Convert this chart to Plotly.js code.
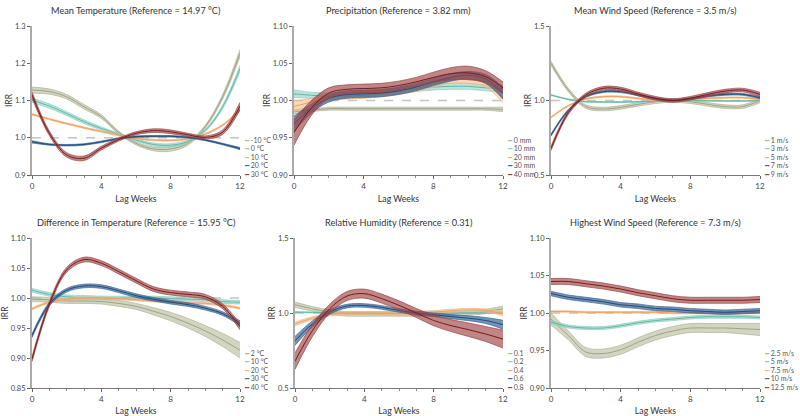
<!DOCTYPE html>
<html>
<head>
<meta charset="utf-8">
<script src="https://cdn.plot.ly/plotly-3.0.1.min.js"></script>
<style>html,body{margin:0;padding:0;background:#fff;}#chart{width:800px;height:416px;}</style>
</head>
<body>
<div id="chart"></div>
<script>
// ---------- DATA ----------
const lags = [0,1,2,3,4,5,6,7,8,9,10,11,12];
const REF_IRR = 1;

// Panel 1: Mean Temperature
const mtLabels = ["-10 °C","0 °C","10 °C","20 °C","30 °C"];
const mt_n10 = [1.128,1.124,1.110,1.083,1.057,1.014,0.985,0.970,0.970,0.985,1.030,1.110,1.227];
const mt_n10_ci = [0.008,0.007,0.006,0.006,0.005,0.004,0.004,0.005,0.006,0.005,0.004,0.006,0.010];
const mt_0 = [1.101,1.085,1.065,1.043,1.025,1.009,0.994,0.982,0.980,0.990,1.020,1.083,1.186];
const mt_0_ci = [0.006,0.006,0.005,0.005,0.004,0.003,0.003,0.004,0.004,0.004,0.003,0.005,0.008];
const mt_10 = [1.063,1.050,1.038,1.027,1.017,1.007,0.998,0.994,0.993,0.997,1.010,1.034,1.074];
const mt_10_ci = [0.002,0.002,0.002,0.002,0.002,0.002,0.002,0.002,0.002,0.002,0.002,0.002,0.003];
const mt_20 = [0.989,0.982,0.980,0.982,0.989,0.998,1.003,1.004,1.004,1.001,0.994,0.983,0.971];
const mt_20_ci = [0.003,0.002,0.002,0.002,0.002,0.002,0.002,0.002,0.002,0.002,0.002,0.002,0.003];
const mt_30 = [1.115,1.012,0.954,0.945,0.972,0.995,1.012,1.019,1.016,1.008,1.001,1.015,1.085];
const mt_30_ci = [0.008,0.006,0.006,0.006,0.005,0.004,0.004,0.005,0.005,0.004,0.004,0.006,0.010];

// Panel 2: Precipitation
const prLabels = ["0 mm","10 mm","20 mm","30 mm","40 mm"];
const pr_0 = [0.985,0.987,0.989,0.989,0.989,0.989,0.989,0.989,0.989,0.989,0.989,0.989,0.988];
const pr_0_ci = [0.003,0.002,0.002,0.002,0.002,0.002,0.002,0.002,0.002,0.002,0.002,0.002,0.003];
const pr_10 = [1.009,1.007,1.006,1.007,1.009,1.010,1.013,1.016,1.018,1.019,1.019,1.017,1.016];
const pr_10_ci = [0.005,0.004,0.004,0.004,0.004,0.004,0.004,0.004,0.004,0.004,0.004,0.004,0.005];
const pr_20 = [0.992,0.998,1.004,1.006,1.007,1.009,1.012,1.016,1.022,1.027,1.028,1.023,1.003];
const pr_20_ci = [0.007,0.005,0.004,0.004,0.004,0.004,0.004,0.004,0.004,0.004,0.005,0.005,0.006];
const pr_30 = [0.969,0.989,1.003,1.008,1.009,1.010,1.013,1.018,1.025,1.031,1.034,1.029,1.010];
const pr_30_ci = [0.010,0.006,0.005,0.005,0.005,0.005,0.005,0.005,0.005,0.005,0.005,0.006,0.008];
const pr_40 = [0.957,0.990,1.010,1.015,1.016,1.017,1.020,1.025,1.031,1.036,1.037,1.032,1.017];
const pr_40_ci = [0.017,0.010,0.007,0.006,0.006,0.006,0.006,0.006,0.007,0.008,0.009,0.008,0.008];

// Panel 3: Mean Wind Speed
const mwLabels = ["1 m/s","3 m/s","5 m/s","7 m/s","9 m/s"];
const mw_1 = [1.250,1.070,0.959,0.943,0.954,0.974,0.992,1.000,0.992,0.974,0.959,0.959,0.999];
const mw_1_ci = [0.014,0.012,0.012,0.012,0.012,0.012,0.012,0.012,0.012,0.012,0.012,0.012,0.014];
const mw_3 = [1.037,1.008,0.992,0.990,0.990,0.992,0.995,1.000,1.000,0.998,0.997,0.997,0.999];
const mw_3_ci = [0.003,0.003,0.003,0.003,0.003,0.003,0.003,0.003,0.003,0.003,0.003,0.003,0.003];
const mw_5 = [0.887,0.965,1.010,1.026,1.026,1.014,1.003,1.000,1.008,1.014,1.019,1.019,1.008];
const mw_5_ci = [0.004,0.004,0.004,0.004,0.004,0.004,0.004,0.004,0.004,0.004,0.004,0.004,0.004];
const mw_7 = [0.768,0.935,1.026,1.059,1.059,1.037,1.012,1.000,1.012,1.030,1.041,1.041,1.019];
const mw_7_ci = [0.007,0.006,0.006,0.006,0.006,0.006,0.006,0.006,0.006,0.006,0.006,0.006,0.007];
const mw_9 = [0.678,0.920,1.037,1.082,1.077,1.044,1.015,1.000,1.015,1.041,1.063,1.070,1.041];
const mw_9_ci = [0.014,0.012,0.012,0.012,0.012,0.012,0.012,0.012,0.012,0.012,0.012,0.012,0.014];

// Panel 4: Difference in Temperature
const dtLabels = ["2 °C","10 °C","20 °C","30 °C","40 °C"];
const dt_2 = [0.998,0.997,0.995,0.995,0.994,0.991,0.986,0.978,0.969,0.958,0.945,0.930,0.913];
const dt_2_ci = [0.004,0.004,0.004,0.004,0.004,0.005,0.005,0.006,0.007,0.008,0.009,0.011,0.013];
const dt_10 = [1.013,1.006,1.002,1.001,1.000,1.000,1.000,1.000,0.999,0.998,0.997,0.994,0.993];
const dt_10_ci = [0.003,0.003,0.003,0.003,0.003,0.003,0.003,0.003,0.003,0.003,0.003,0.003,0.003];
const dt_20 = [0.982,0.993,0.998,1.000,1.000,0.999,0.997,0.995,0.994,0.992,0.991,0.988,0.983];
const dt_20_ci = [0.0015,0.0015,0.0015,0.0015,0.0015,0.0015,0.0015,0.0015,0.0015,0.0015,0.0015,0.0015,0.0015];
const dt_30 = [0.937,0.990,1.013,1.020,1.019,1.012,1.004,0.998,0.993,0.989,0.983,0.974,0.958];
const dt_30_ci = [0.003,0.003,0.003,0.003,0.003,0.003,0.003,0.003,0.003,0.003,0.003,0.003,0.004];
const dt_40 = [0.898,0.990,1.047,1.064,1.058,1.044,1.029,1.015,1.009,1.006,1.002,0.986,0.952];
const dt_40_ci = [0.004,0.004,0.004,0.004,0.004,0.004,0.004,0.004,0.004,0.004,0.004,0.004,0.005];

// Panel 5: Relative Humidity
const rhLabels = ["0.1","0.2","0.4","0.6","0.8"];
const rh_01 = [1.055,1.028,1.006,0.994,0.994,0.994,0.994,0.994,0.994,0.996,1.000,1.010,1.028];
const rh_01_ci = [0.018,0.015,0.015,0.015,0.015,0.015,0.015,0.015,0.015,0.015,0.015,0.015,0.018];
const rh_02 = [1.006,1.004,1.001,1.000,0.998,0.997,0.997,0.998,0.999,1.000,1.000,1.000,1.002];
const rh_02_ci = [0.003,0.003,0.003,0.003,0.003,0.003,0.003,0.003,0.003,0.003,0.003,0.003,0.003];
const rh_04 = [0.927,0.965,0.991,1.000,1.000,0.999,0.997,1.000,1.006,1.015,1.021,1.017,0.994];
const rh_04_ci = [0.012,0.010,0.010,0.010,0.010,0.010,0.010,0.010,0.010,0.010,0.010,0.010,0.012];
const rh_06 = [0.814,0.927,1.006,1.046,1.050,1.037,1.017,1.000,0.988,0.976,0.965,0.950,0.922];
const rh_06_ci = [0.030,0.020,0.015,0.012,0.012,0.012,0.012,0.012,0.012,0.014,0.016,0.020,0.030];
const rh_08 = [0.679,0.882,1.028,1.113,1.129,1.096,1.051,1.000,0.950,0.916,0.889,0.860,0.826];
const rh_08_ci = [0.055,0.040,0.030,0.030,0.030,0.030,0.030,0.030,0.035,0.040,0.045,0.050,0.060];

// Panel 6: Highest Wind Speed
const hwLabels = ["2.5 m/s","5 m/s","7.5 m/s","10 m/s","12.5 m/s"];
const hw_25 = [0.992,0.970,0.948,0.946,0.951,0.961,0.970,0.976,0.980,0.980,0.980,0.979,0.978];
const hw_25_ci = [0.008,0.006,0.006,0.006,0.006,0.006,0.006,0.006,0.006,0.006,0.006,0.007,0.008];
const hw_5 = [0.988,0.982,0.980,0.980,0.983,0.987,0.990,0.992,0.994,0.995,0.995,0.995,0.994];
const hw_5_ci = [0.002,0.002,0.002,0.002,0.002,0.002,0.002,0.002,0.002,0.002,0.002,0.002,0.002];
const hw_75 = [1.002,1.002,1.001,1.001,1.001,1.001,1.001,1.000,1.000,1.000,1.000,1.000,1.000];
const hw_75_ci = [0.001,0.001,0.001,0.001,0.001,0.001,0.001,0.001,0.001,0.001,0.001,0.001,0.001];
const hw_10 = [1.026,1.021,1.018,1.015,1.011,1.009,1.006,1.005,1.003,1.002,1.001,1.002,1.003];
const hw_10_ci = [0.003,0.003,0.003,0.003,0.003,0.003,0.003,0.003,0.003,0.003,0.003,0.003,0.003];
const hw_125 = [1.042,1.042,1.039,1.036,1.032,1.027,1.023,1.019,1.017,1.017,1.017,1.017,1.018];
const hw_125_ci = [0.004,0.004,0.004,0.004,0.004,0.004,0.004,0.004,0.004,0.004,0.004,0.004,0.004];

// ---------- STYLE / LAYOUT ----------
const W = 800, H = 416;
const FONT = 'Lato, "Open Sans", sans-serif';
const palette = [
  {line:'#9fa385', edge:'#b2b597', fill:'rgba(186,190,160,0.65)'},
  {line:'#5fb8a6', edge:'#8ccfc0', fill:'rgba(140,208,193,0.6)'},
  {line:'#f0a060', edge:'#f5b47e', fill:'rgba(247,182,128,0.55)'},
  {line:'#1f4c7c', edge:'#3b6898', fill:'rgba(45,88,140,0.65)'},
  {line:'#7a1a1a', edge:'#9c4444', fill:'rgba(158,68,68,0.65)'}
];

const panels = [
  {title:'Mean Temperature (Reference = 14.97 °C)', labels:mtLabels,
   series:[[mt_n10,mt_n10_ci],[mt_0,mt_0_ci],[mt_10,mt_10_ci],[mt_20,mt_20_ci],[mt_30,mt_30_ci]],
   yr:[0.9,1.3], dt:0.1, fmt:'.1f', px:[32,240], py:[26,175]},
  {title:'Precipitation (Reference = 3.82 mm)', labels:prLabels,
   series:[[pr_0,pr_0_ci],[pr_10,pr_10_ci],[pr_20,pr_20_ci],[pr_30,pr_30_ci],[pr_40,pr_40_ci]],
   yr:[0.9,1.1], dt:0.05, fmt:'.2f', px:[294,503], py:[26,175]},
  {title:'Mean Wind Speed (Reference = 3.5 m/s)', labels:mwLabels,
   series:[[mw_1,mw_1_ci],[mw_3,mw_3_ci],[mw_5,mw_5_ci],[mw_7,mw_7_ci],[mw_9,mw_9_ci]],
   yr:[0.5,1.5], dt:0.5, fmt:'.1f', px:[551,760], py:[26,175]},
  {title:'Difference in Temperature (Reference = 15.95 °C)', labels:dtLabels,
   series:[[dt_2,dt_2_ci],[dt_10,dt_10_ci],[dt_20,dt_20_ci],[dt_30,dt_30_ci],[dt_40,dt_40_ci]],
   yr:[0.85,1.1], dt:0.05, fmt:'.2f', px:[32,240], py:[238,388]},
  {title:'Relative Humidity (Reference = 0.31)', labels:rhLabels,
   series:[[rh_01,rh_01_ci],[rh_02,rh_02_ci],[rh_04,rh_04_ci],[rh_06,rh_06_ci],[rh_08,rh_08_ci]],
   yr:[0.5,1.5], dt:0.5, fmt:'.1f', px:[295,503], py:[238,388]},
  {title:'Highest Wind Speed (Reference = 7.3 m/s)', labels:hwLabels,
   series:[[hw_25,hw_25_ci],[hw_5,hw_5_ci],[hw_75,hw_75_ci],[hw_10,hw_10_ci],[hw_125,hw_125_ci]],
   yr:[0.9,1.1], dt:0.05, fmt:'.2f', px:[551,760], py:[238,388]}
];

const traces = [];
const layout = {
  width: W, height: H,
  margin: {l:0, r:0, t:0, b:0},
  paper_bgcolor: '#fff', plot_bgcolor: '#fff',
  showlegend: false,
  font: {family: FONT, color: '#333'},
  annotations: [], shapes: []
};

panels.forEach((p, i) => {
  const n = i + 1;
  const xa = 'x' + (n === 1 ? '' : n), ya = 'y' + (n === 1 ? '' : n);
  const xk = 'xaxis' + (n === 1 ? '' : n), yk = 'yaxis' + (n === 1 ? '' : n);
  const xd = [p.px[0] / W, p.px[1] / W];
  const yd = [1 - p.py[1] / H, 1 - p.py[0] / H];

  // reference line at IRR = 1
  layout.shapes.push({type:'line', xref: xa + ' domain', yref: ya, x0:0, x1:1, y0:REF_IRR, y1:REF_IRR,
    line:{color:'#c4c4c4', width:1.5, dash:'dash'}, layer:'below'});

  p.series.forEach((s, k) => {
    const [m, ci] = s;
    const c = palette[k];
    const lo = m.map((v, j) => v - ci[j]);
    const hi = m.map((v, j) => v + ci[j]);
    traces.push({x:lags, y:lo, xaxis:xa, yaxis:ya, mode:'lines', hoverinfo:'skip',
      line:{color:c.edge, width:0.7, shape:'spline', smoothing:1}});
    traces.push({x:lags, y:hi, xaxis:xa, yaxis:ya, mode:'lines', fill:'tonexty', fillcolor:c.fill,
      hoverinfo:'skip', line:{color:c.edge, width:0.7, shape:'spline', smoothing:1}});
    traces.push({x:lags, y:m, xaxis:xa, yaxis:ya, mode:'lines', name:p.labels[k],
      line:{color:c.line, width:1, shape:'spline', smoothing:1}});
  });

  layout[xk] = {
    domain: xd, anchor: ya, range:[0,12], tickmode:'linear', tick0:0, dtick:4,
    ticks:'outside', ticklen:3, tickcolor:'#666', showline:true, linecolor:'#777', linewidth:1,
    showgrid:false, zeroline:false, tickfont:{size:8, color:'#444'},
    minor:{tickmode:'linear', tick0:0, dtick:1, ticks:'outside', ticklen:2, tickcolor:'#888'},
    title:{text:'Lag Weeks', font:{size:8.7, color:'#333'}, standoff:6}
  };
  layout[yk] = {
    domain: yd, anchor: xa, range:p.yr, tickmode:'linear', tick0:p.yr[0], dtick:p.dt, tickformat:p.fmt,
    ticks:'outside', ticklen:3, tickcolor:'#666', showline:true, linecolor:'#aaa', linewidth:2,
    showgrid:false, zeroline:false, tickfont:{size:7.5, color:'#444'},
    title:{text:'IRR', font:{size:8.5, color:'#333'}, standoff:1}
  };

  // panel title
  layout.annotations.push({xref:'paper', yref:'paper', x:(xd[0] + xd[1]) / 2,
    y: 1 - (p.py[0] - 16) / H, yanchor:'middle', xanchor:'center', showarrow:false,
    text:p.title, font:{size:9.2, color:'#333', family:FONT}});

  // legend (drawn as text entries beside the panel)
  p.labels.forEach((lab, k) => {
    const c = palette[k];
    const ypx = p.py[1] - 1 - (4 - k) * 8.6;
    layout.annotations.push({xref:'paper', yref:'paper', x:(p.px[1] + 2) / W, y: 1 - ypx / H,
      xanchor:'left', yanchor:'middle', showarrow:false,
      text:'<span style="color:' + c.edge + '">━</span> ' + lab,
      font:{size:7, color:'#555', family:FONT}});
  });
});

Plotly.newPlot('chart', traces, layout, {staticPlot:true, displayModeBar:false});
</script>
</body>
</html>
